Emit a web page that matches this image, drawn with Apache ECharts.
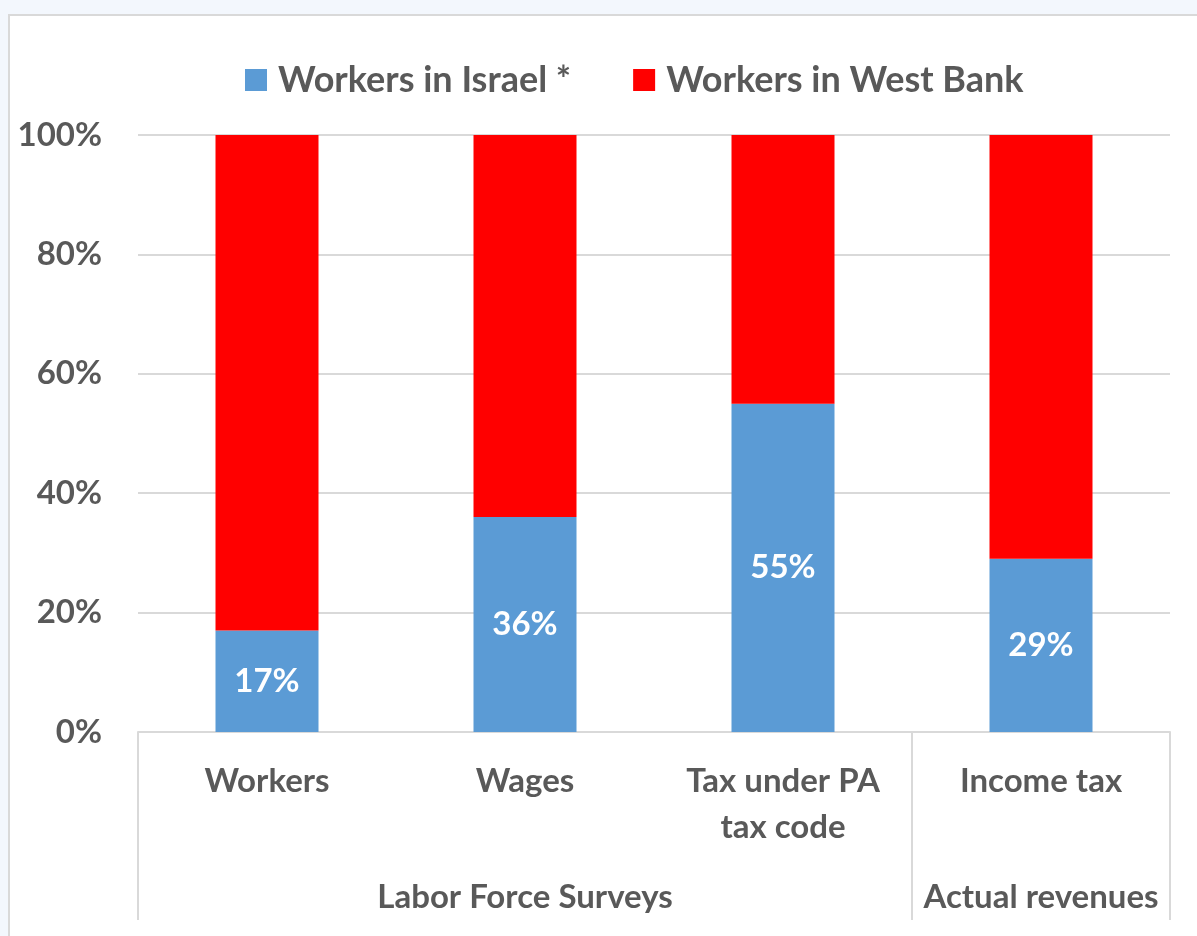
<!DOCTYPE html>
<html>
<head>
<meta charset="utf-8">
<script src="https://cdn.jsdelivr.net/npm/echarts@6/dist/echarts.min.js"></script>
<style>
  html, body { margin: 0; padding: 0; background: #f3f7fd; width: 1197px; height: 936px; overflow: hidden; }
  #frame { position: absolute; left: 8px; top: 14px; width: 1300px; height: 1000px; background: #ffffff; border: 2px solid #d9d9d9; box-sizing: border-box; }
  #chart { position: absolute; left: 0; top: 0; width: 1197px; height: 936px; }
</style>
</head>
<body>
<div id="frame"></div>
<div id="chart"></div>
<script>
const categories = ['Workers', 'Wages', 'Tax under PA\ntax code', 'Income tax'];
const groupLabels = ['', 'Labor Force Surveys', '', 'Actual revenues'];
const groupBoundaries = [0, 3];
const israelShare = [17, 36, 55, 29];
const westBankShare = [83, 64, 45, 71];
const yTicks = [0, 20, 40, 60, 80, 100];

const FONT = 'Lato';
const TXT = '#595959';
const GRID = '#d9d9d9';
const FS = 33;

const chart = echarts.init(document.getElementById('chart'), null, { renderer: 'canvas' });
chart.setOption({
  backgroundColor: 'transparent',
  animation: false,
  textStyle: { fontFamily: FONT },
  legend: {
    top: 57,
    left: 240,
    itemWidth: 22,
    itemHeight: 22,
    itemGap: 62,
    icon: 'rect',
    textStyle: { color: TXT, fontSize: 36, fontWeight: 'bold', fontFamily: FONT, padding: [0, 0, 0, 6] },
    data: ['Workers in Israel *', 'Workers in West Bank']
  },
  grid: { left: 138, right: 27, top: 135, bottom: 204, containLabel: false },
  xAxis: [
    {
      type: 'category',
      data: categories,
      position: 'bottom',
      axisLine: { show: true, lineStyle: { color: GRID, width: 2 } },
      axisTick: {
        show: true,
        length: 188,
        interval: function (i) { return groupBoundaries.indexOf(i) >= 0; },
        lineStyle: { color: GRID, width: 2 }
      },
      axisLabel: {
        color: TXT, fontSize: FS, fontWeight: 'bold', fontFamily: FONT,
        lineHeight: 46, margin: 26, interval: 0
      }
    },
    {
      type: 'category',
      data: groupLabels,
      position: 'bottom',
      offset: 118,
      axisLine: { show: false },
      axisTick: { show: false },
      axisLabel: {
        color: TXT, fontSize: FS, fontWeight: 'bold', fontFamily: FONT,
        lineHeight: 46, margin: 24, interval: 0
      }
    }
  ],
  yAxis: {
    type: 'value',
    min: yTicks[0],
    max: yTicks[yTicks.length - 1],
    interval: 20,
    axisLine: { show: false },
    axisTick: { show: false },
    splitLine: { lineStyle: { color: GRID, width: 2 } },
    axisLabel: {
      formatter: '{value}%',
      color: TXT, fontSize: FS, fontWeight: 'bold', fontFamily: FONT, margin: 36
    }
  },
  series: [
    {
      name: 'Workers in Israel *',
      type: 'bar',
      stack: 'total',
      barWidth: 103,
      data: israelShare,
      itemStyle: { color: '#5b9bd5' },
      label: {
        show: true,
        position: 'inside',
        formatter: '{c}%',
        color: '#ffffff',
        fontSize: FS,
        fontWeight: 'bold',
        fontFamily: FONT
      }
    },
    {
      name: 'Workers in West Bank',
      type: 'bar',
      stack: 'total',
      barWidth: 103,
      data: westBankShare,
      itemStyle: { color: '#ff0000' }
    }
  ]
});
</script>
</body>
</html>
